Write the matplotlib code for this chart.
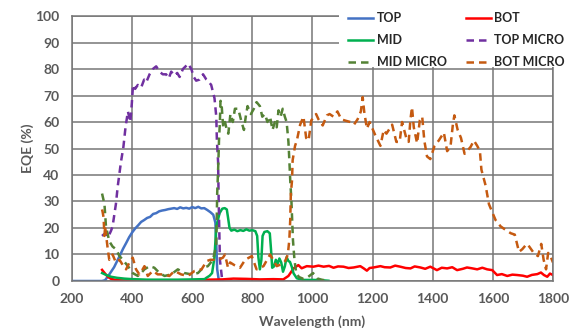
import matplotlib
matplotlib.use('Agg')
import matplotlib.pyplot as plt
from matplotlib.patches import Rectangle

plt.rcParams['font.family'] = ['Lato', 'DejaVu Sans']
plt.rcParams['font.weight'] = 'bold'

# wavelength (nm) / EQE (%)
top_wl = [200, 250, 300, 310, 320, 330, 340, 350, 360, 370, 380, 390, 400, 410, 420,
          430, 440, 450, 460, 470, 480, 490, 500, 510, 520, 530, 540, 550, 560, 570,
          580, 590, 600, 610, 620, 630, 640, 650, 660, 670, 677, 680, 683, 688, 700]
top_eqe = [0, 0, 0, 0.3, 1.8, 3.5, 5.2, 7.5, 9.8, 12.2, 14.3, 16.5, 18.3, 19.8, 21.0,
           22.3, 23.0, 23.8, 24.2, 25.3, 25.6, 26.3, 26.6, 26.8, 27.1, 27.3, 27.5, 27.2, 27.8, 27.4,
           27.6, 27.3, 27.9, 27.5, 28.0, 27.4, 27.5, 26.8, 26.0, 25.0, 22.0, 14.0, 4.4, 0.6, 0]

bot_wl = [300, 305, 310, 320, 330, 350, 400, 450, 500, 550,
          600, 626, 650, 700, 737, 780, 826, 870, 903, 920,
          937, 953, 964, 981, 1003, 1020, 1037, 1055, 1070, 1085,
          1103, 1120, 1137, 1159, 1170, 1181, 1190, 1203, 1226, 1240,
          1259, 1275, 1292, 1310, 1326, 1340, 1359, 1375, 1392, 1414,
          1430, 1448, 1465, 1481, 1500, 1514, 1530, 1548, 1565, 1581,
          1598, 1614, 1630, 1648, 1665, 1681, 1700, 1714, 1730, 1748,
          1760, 1770, 1781, 1790, 1800]
bot_eqe = [4.2, 3.5, 2.8, 1.5, 0.8, 0.3, 0.1, 0.1, 0.2, 0.1,
           0.2, 0.4, 0.5, 0.6, 0.9, 0.8, 0.6, 0.7, 0.6, 1.9,
           4.75, 6.0, 4.8, 5.6, 5.4, 5.8, 5.4, 5.7, 5.0, 5.5,
           5.4, 4.9, 5.1, 5.6, 4.8, 3.9, 4.9, 5.1, 5.6, 5.2,
           5.1, 5.8, 5.4, 4.9, 4.75, 5.5, 5.1, 4.6, 5.4, 4.1,
           5.0, 4.75, 5.2, 4.1, 4.6, 5.1, 4.8, 4.4, 5.0, 4.4,
           4.1, 2.25, 2.6, 1.9, 2.4, 2.25, 2.0, 1.6, 2.3, 2.6,
           3.2, 2.25, 1.6, 2.8, 2.25]

mid_wl = [300, 315, 330, 350, 374, 400, 450, 500, 550, 600,
          641, 647, 658, 666, 674, 680, 691, 700, 708, 715,
          719, 724, 730, 740, 750, 760, 770, 780, 790, 800,
          810, 816, 820, 825, 830, 834, 840, 850, 858, 862,
          866, 872, 878, 884, 890, 896, 902, 908, 914, 920,
          925, 931, 937, 948, 970, 1003, 1030, 1053]
mid_eqe = [3.0, 2.2, 1.6, 1.2, 0.9, 0.7, 0.5, 0.5, 0.5, 0.6,
           0.7, 1.2, 2.0, 3.0, 9.0, 20.6, 25.6, 27.3, 27.5, 27.0,
           24.0, 20.0, 19.0, 19.4, 18.8, 19.2, 18.9, 19.5, 19.0, 19.2,
           18.8, 17.0, 9.0, 4.4, 8.0, 17.0, 18.5, 18.8, 18.0, 12.0,
           5.0, 5.5, 8.0, 6.5, 8.5, 7.0, 3.5, 5.5, 9.0, 7.5,
           7.25, 5.4, 2.9, 1.0, 0.4, 0.4, 0.3, 0.1]

top_micro_wl = [300, 305, 313, 320, 330, 335, 346, 352, 363, 371,
                378, 386, 394, 399, 403, 410, 419, 430, 440, 447,
                458, 469, 480, 491, 502, 513, 522, 530, 541, 550,
                558, 569, 578, 586, 597, 605, 613, 624, 636, 647,
                656, 663, 674, 680, 682, 686, 688, 692, 700]
top_micro_eqe = [17, 17.5, 18, 16.5, 19, 20.6, 29, 35.6, 45, 50.6,
                 58, 64, 60, 67, 74, 72.5, 74, 73, 76, 75,
                 78, 80, 81, 79, 78, 78, 76.5, 79, 77.5, 78.5,
                 77, 80, 81, 82, 80, 77, 75.6, 76, 78, 76,
                 75, 74, 69, 62, 53, 45, 30, 8, 0]

mid_micro_wl = [300, 308, 313, 324, 335, 346, 358, 369, 386, 402,
                419, 430, 441, 458, 474, 491, 508, 530, 552, 574,
                597, 619, 636, 652, 669, 675, 680, 683, 687, 689,
                692, 694, 698, 703, 709, 715, 720, 727, 735, 742,
                753, 764, 772, 778, 784, 795, 805, 814, 825, 833,
                842, 850, 859, 867, 875, 881, 887, 894, 901, 908,
                914, 920, 923, 926, 930, 935, 940, 946, 955, 970,
                985, 1002, 1015, 1030, 1040]
mid_micro_eqe = [33, 29, 20.6, 15, 13, 12, 9.4, 8, 5.6, 3,
                 1.9, 3, 4.4, 5.6, 5, 3, 1.9, 2.5, 4.4, 3,
                 2.5, 3, 5, 5.6, 8, 11, 14, 33, 45, 53,
                 60, 68, 66, 58, 60, 57, 55.6, 63, 60, 65,
                 65, 60, 57, 62, 66, 63, 65, 67.5, 66, 62,
                 63, 60, 62, 57, 60, 58, 64.4, 62, 65, 62,
                 60, 52.5, 45.6, 38, 30, 15.5, 8, 3, 1.5, 0.8,
                 1.5, 3, 1, 0.5, 0.3]

bot_micro_wl = [300, 302, 305, 308, 310, 319, 324, 335, 346, 358,
                369, 380, 391, 402, 413, 424, 433, 441, 452, 469,
                485, 502, 524, 541, 563, 585, 608, 631, 648, 660,
                674, 687, 702, 709, 719, 726, 740, 759, 776, 798,
                814, 837, 859, 881, 900, 909, 918, 923, 926, 928,
                932, 934, 942, 948, 959, 970, 979, 987, 996, 1012,
                1020, 1034, 1048, 1057, 1070, 1083, 1096, 1110, 1126, 1138,
                1150, 1161, 1167, 1172, 1181, 1190, 1209, 1226, 1237, 1246,
                1265, 1279, 1290, 1298, 1312, 1320, 1326, 1331, 1337, 1348,
                1357, 1365, 1372, 1381, 1392, 1406, 1420, 1437, 1448, 1459,
                1467, 1472, 1483, 1494, 1506, 1514, 1526, 1537, 1548, 1557,
                1562, 1576, 1587, 1598, 1609, 1626, 1646, 1660, 1673, 1687,
                1698, 1713, 1721, 1736, 1750, 1761, 1769, 1777, 1784, 1793,
                1800]
bot_micro_eqe = [27, 26, 24, 17, 20.6, 12, 8, 10, 7, 8,
                 6, 4.4, 7, 8.8, 4.4, 2.5, 4, 5.6, 1.9, 3.8,
                 2.5, 2.5, 1.9, 3.8, 2.5, 1.9, 3.8, 4.4, 7.5, 8,
                 8, 8, 8.8, 10, 5, 7, 6, 5, 8, 9.4,
                 4.4, 5.6, 10, 5.6, 6.5, 7.5, 10, 15.6, 23, 33,
                 38, 45.6, 51, 53, 59, 62, 54, 53, 60.6, 63,
                 61, 58.7, 62.5, 63, 62, 64, 61, 60.5, 60, 59,
                 61, 64, 69.4, 64, 57.5, 60, 55, 51, 57, 55.6,
                 59, 52.5, 52.5, 60, 54, 52.5, 61, 65.6, 58, 52,
                 60.6, 62, 53, 47, 46, 51, 53, 56, 49, 50.6,
                 59, 62.5, 57, 54, 48, 49, 50.6, 53, 51, 49,
                 42, 36, 29, 26, 23, 20.6, 19, 18, 17.5, 11,
                 12, 14, 13, 10.6, 9.4, 14, 8, 4.4, 10.6, 9,
                 7]

grey = '#595959'
dash = (0, (3, 2))
lw = 1.8

fig = plt.figure(figsize=(5.76, 3.3), dpi=100)
ax = fig.add_axes([0.125, 0.1485, 0.835, 0.803])

h_top, = ax.plot(top_wl, top_eqe, color='#4472C4', lw=lw, label='TOP')
h_bot, = ax.plot(bot_wl, bot_eqe, color='#FF0000', lw=lw, label='BOT')
h_mid, = ax.plot(mid_wl, mid_eqe, color='#00B050', lw=lw, label='MID')
h_tm, = ax.plot(top_micro_wl, top_micro_eqe, color='#7030A0', lw=lw, ls=dash, label='TOP MICRO')
h_mm, = ax.plot(mid_micro_wl, mid_micro_eqe, color='#548235', lw=lw, ls=dash, label='MID MICRO')
h_bm, = ax.plot(bot_micro_wl, bot_micro_eqe, color='#C55A11', lw=lw, ls=dash, label='BOT MICRO')

ax.set_xlim(200, 1800)
ax.set_ylim(0, 100)
ax.set_xticks(range(200, 1801, 200))
ax.set_yticks(range(0, 101, 10))
ax.grid(True, color='#767676', lw=1.1)
ax.set_axisbelow(True)
for s in ax.spines.values():
    s.set_color('#767676')
    s.set_linewidth(1.1)
ax.tick_params(length=0, labelsize=10, labelcolor=grey, pad=9)
for lbl in ax.get_xticklabels() + ax.get_yticklabels():
    lbl.set_fontweight('bold')

ax.set_xlabel('Wavelength (nm)', fontsize=10, color=grey, fontweight='bold')
ax.set_ylabel('EQE (%)', fontsize=10, color=grey, fontweight='bold')
ax.xaxis.set_label_coords(0.5, -0.13)
ax.yaxis.set_label_coords(-0.08, 0.5)

# white block behind the legend hides the grid in the top right corner
ax.add_patch(Rectangle((339 / 576, 263 / 330), 1, 1, transform=fig.transFigure,
                       facecolor='white', edgecolor='none', zorder=2.6, clip_on=False))

leg = ax.legend(handles=[h_top, h_mid, h_mm, h_bot, h_tm, h_bm], ncol=2,
                loc='upper left', bbox_to_anchor=(348 / 576, 318 / 330), bbox_transform=fig.transFigure,
                frameon=False, fontsize=9, handlelength=2.0, handletextpad=0.3, columnspacing=1.5,
                labelspacing=0.8, borderpad=0, borderaxespad=0)
for t in leg.get_texts():
    t.set_color('#262626')
    t.set_fontweight('bold')

fig.savefig('out.png', dpi=100)
